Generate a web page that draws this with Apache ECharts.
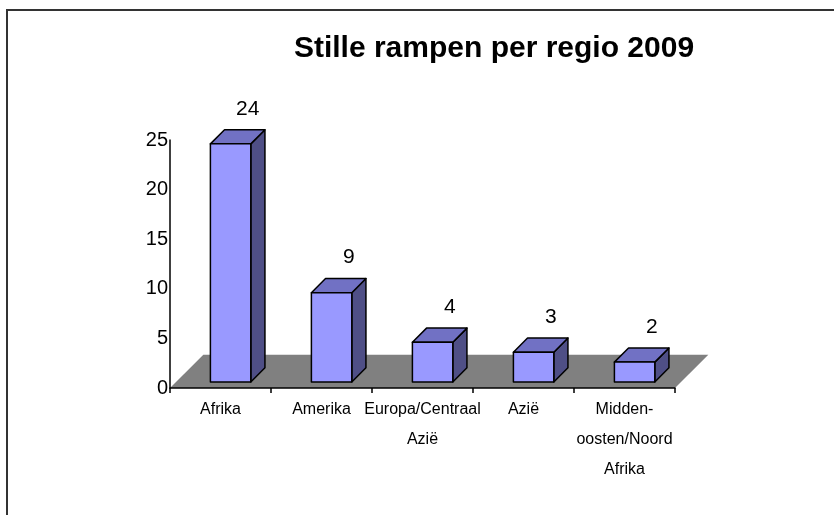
<!DOCTYPE html>
<html>
<head>
<meta charset="utf-8">
<script src="https://cdn.jsdelivr.net/npm/echarts@6/dist/echarts.min.js"></script>
<style>
html,body{margin:0;padding:0;background:#fff;}
#chart{width:834px;height:515px;}
</style>
</head>
<body>
<div id="chart"></div>
<script>
// ---- data ----
const titleText = 'Stille rampen per regio 2009';
const categories = ['Afrika', 'Amerika', 'Europa/Centraal Azië', 'Azië', 'Midden-oosten/Noord Afrika'];
const values = [24, 9, 4, 3, 2];
const yMin = 0, yMax = 25, yInterval = 5;

const FONT = "'Liberation Sans', Arial, sans-serif";
const chart = echarts.init(document.getElementById('chart'), null, {renderer: 'canvas'});

function wrapLabel(v) {
  return v.replace(/ /g, '\n').replace(/-/g, '-\n');
}

function renderFloor(params, api) {
  const first = api.coord([0, 0]);
  const last = api.coord([categories.length - 1, 0]);
  const band = api.size([1, 0])[0];
  const x0 = first[0] - band / 2, x1 = last[0] + band / 2, y = first[1];
  const d = band * 0.33;
  return {
    type: 'polygon',
    shape: {points: [[x0, y], [x1, y], [x1 + d, y - d], [x0 + d, y - d]]},
    style: {fill: '#808080', stroke: null}
  };
}

function renderBar(params, api) {
  const idx = api.value(0), v = api.value(1);
  const base = api.coord([idx, 0]);
  const top = api.coord([idx, v]);
  const band = api.size([1, 0])[0];
  const c = base[0];
  const fl = c - band * 0.1, fr = c + band * 0.3;
  const lift = band * 0.06;
  const fb = base[1] - lift, ft = top[1] - lift;
  const d = band * 0.14;
  const line = {stroke: '#000', lineWidth: 1.5, lineJoin: 'round'};
  return {
    type: 'group',
    children: [
      {type: 'polygon', shape: {points: [[fr, ft], [fr, fb], [fr + d, fb - d], [fr + d, ft - d]]},
       style: Object.assign({fill: '#4F4F86'}, line)},
      {type: 'polygon', shape: {points: [[fl, ft], [fr, ft], [fr + d, ft - d], [fl + d, ft - d]]},
       style: Object.assign({fill: '#7171C4'}, line)},
      {type: 'rect', shape: {x: fl, y: ft, width: fr - fl, height: fb - ft},
       style: Object.assign({fill: '#9999FF'}, line)},
      {type: 'text', x: c + band * 0.27, y: ft - d - 21,
       style: {text: String(v), fill: '#000', font: '21px ' + FONT, textAlign: 'center', textVerticalAlign: 'middle'}}
    ]
  };
}

const option = {
  animation: false,
  backgroundColor: '#fff',
  title: {
    text: titleText,
    left: 489, top: 29, textAlign: 'center',
    textStyle: {fontFamily: FONT, fontSize: 30, fontWeight: 'bold', color: '#000'}
  },
  graphic: [{
    type: 'rect', shape: {x: 7, y: 10, width: 900, height: 600},
    style: {fill: null, stroke: '#333', lineWidth: 2}, z: 0
  }],
  grid: {left: 170, right: 159, top: 140, bottom: 127, containLabel: false},
  xAxis: {
    type: 'category', data: categories, z: 5,
    axisLine: {lineStyle: {color: '#000', width: 1.5}},
    axisTick: {show: true, length: 5, lineStyle: {color: '#000', width: 1.5}},
    axisLabel: {
      interval: 0, margin: 7, fontFamily: FONT, fontSize: 16, lineHeight: 30, color: '#000',
      formatter: wrapLabel
    },
    splitLine: {show: false}
  },
  yAxis: {
    type: 'value', min: yMin, max: yMax, interval: yInterval, z: 5,
    axisLine: {show: true, lineStyle: {color: '#000', width: 1.5}},
    axisTick: {show: false},
    axisLabel: {margin: 2, fontFamily: FONT, fontSize: 20, color: '#000'},
    splitLine: {show: false}
  },
  series: [
    {type: 'custom', z: 1, renderItem: renderFloor, data: [[0, 0]], encode: {x: 0, y: 1}, silent: true},
    {type: 'custom', z: 3, renderItem: renderBar,
     data: values.map((v, i) => [i, v]), encode: {x: 0, y: 1}}
  ]
};
chart.setOption(option);
</script>
</body>
</html>
